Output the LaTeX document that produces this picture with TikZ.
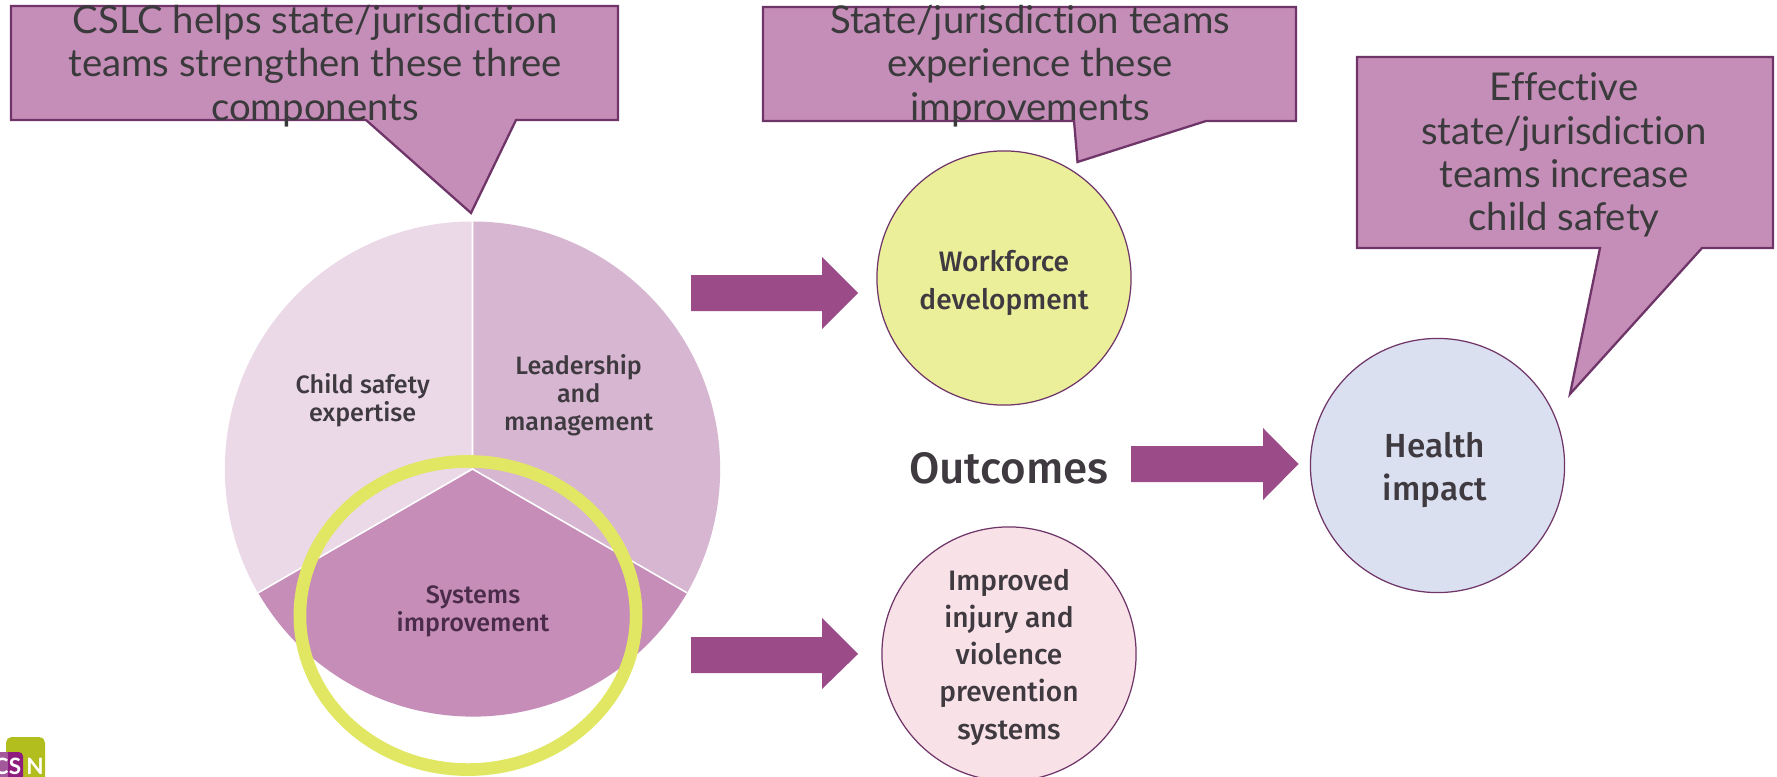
\documentclass[tikz,border=0pt]{standalone}
\usepackage{fontspec}
\setmainfont{Lato}[Ligatures=NoCommon]
\newfontfamily\labelfont{Fira Sans Medium}
\definecolor{callfill}{HTML}{C58EB8}
\definecolor{callline}{HTML}{6F3568}
\definecolor{txt}{HTML}{3A3A3C}
\definecolor{lbl}{HTML}{3F3A40}
\definecolor{lbldark}{HTML}{4A2C4A}
\definecolor{arrowc}{HTML}{9B4B88}
\definecolor{pieA}{HTML}{EBD9E8}
\definecolor{pieB}{HTML}{D7B6D1}
\definecolor{pieC}{HTML}{C58DB8}
\definecolor{ringc}{HTML}{E1E763}
\definecolor{discY}{HTML}{EBEF9A}
\definecolor{discP}{HTML}{F9E1E8}
\definecolor{discB}{HTML}{DAE0F0}
\definecolor{logoG}{HTML}{B2BD1E}
\definecolor{logoL}{HTML}{A3589C}
\definecolor{logoD}{HTML}{8E1C7F}
\tikzset{
  calltext/.style={text=txt,font=\fontsize{10.9}{12.3}\selectfont,align=center,inner sep=0pt},
  callshape/.style={fill=callfill,draw=callline,line width=0.65pt,line join=miter},
  disc/.style={draw=callline,line width=0.35pt},
  disctext/.style={text=lbl,align=center,inner sep=0pt,font=\labelfont\fontsize{8}{10.6}\selectfont},
  pielabel/.style={text=lbl,align=center,inner sep=0pt,font=\labelfont\fontsize{7.15}{8}\selectfont},
  blockarrow/.style={fill=arrowc,draw=none},
  logotext/.style={text=white,font=\fontsize{6.4}{6.4}\selectfont\bfseries,inner sep=0pt},
}
\begin{document}
\begin{tikzpicture}[x=0.01cm,y=-0.01cm]
\useasboundingbox (0,0) rectangle (1777,776);
\fill[white] (0,0) rectangle (1777,776);
\clip (0,0) rectangle (1777,776);
% logo
\fill[logoG,rounded corners=1.6pt] (6,737) rectangle (45,800);
\fill[logoD,rounded corners=1.2pt] (-10,752) rectangle (23,800);
\fill[logoL] (-10,752) rectangle (8,800);
\node[logotext] (logoC) at (1,766) {C};
\node[logotext] (logoS) at (15,766) {S};
\node[logotext] (logoN) at (35,766) {N};
% pie
\coordinate (pc) at (472.5,469);
\fill[pieA] (pc) -- ++(0,-247.5) arc[start angle=90,end angle=210,radius=2.475cm] -- cycle;
\fill[pieB] (pc) -- ++(0,-247.5) arc[start angle=90,end angle=-30,radius=2.475cm] -- cycle;
\fill[pieC] (pc) -- ++(-214.3,123.75) arc[start angle=210,end angle=330,radius=2.475cm] -- cycle;
\draw[white,line width=0.45pt] (pc) -- ++(0,-247.5) (pc) -- ++(-214.3,123.75) (pc) -- ++(214.3,123.75);
\node[pielabel] (child) at (362.7,400) {Child safety\\expertise};
\node[pielabel] (lead) at (578.7,395) {Leadership\\and\\management};
\node[pielabel,text=lbldark] (sys) at (473,611.5) {Systems\\improvement};
\draw[ringc,line width=3.6pt] (468,615.5) ellipse [x radius=1.68cm,y radius=1.54cm];
% discs
\coordinate (wc) at (1004,278);
\coordinate (ic) at (1009,654);
\coordinate (hc) at (1437.5,465.5);
\fill[discY] (wc) circle [radius=1.27cm];
\draw[disc] (wc) circle [radius=1.27cm];
\fill[discP] (ic) circle [radius=1.27cm];
\draw[disc] (ic) circle [radius=1.27cm];
\fill[discB] (hc) circle [radius=1.27cm];
\draw[disc] (hc) circle [radius=1.27cm];
\node[disctext] (work) at (1004,283) {Workforce\\development};
\node[disctext] (impr) at (1009,657) {Improved\\injury and\\violence\\prevention\\systems};
\node[disctext,font=\labelfont\fontsize{9.5}{12}\selectfont] (health) at (1435,470) {Health\\impact};
\node[text=lbl,inner sep=0pt,font=\labelfont\fontsize{12.5}{14}\selectfont] (outc) at (1009,468) {Outcomes};
% block arrows
\fill[blockarrow] (691,275) -- (822,275) -- (822,257) -- (858,293) -- (822,329) -- (822,311) -- (691,311) -- cycle;
\fill[blockarrow] (691,637) -- (822,637) -- (822,618) -- (858,654) -- (822,689) -- (822,673) -- (691,673) -- cycle;
\fill[blockarrow] (1131,446) -- (1263,446) -- (1263,428) -- (1298.5,464) -- (1263,500) -- (1263,482) -- (1131,482) -- cycle;
% callouts
\draw[callshape] (11,6) -- (618,6) -- (618,120) -- (516,120) -- (471,213) -- (366,120) -- (11,120) -- cycle;
\draw[callshape] (763,7) -- (1296,7) -- (1296,121) -- (1206,121) -- (1077.5,162) -- (1074,121) -- (763,121) -- cycle;
\draw[callshape] (1357,57) -- (1773,57) -- (1773,248) -- (1702,248) -- (1570,394) -- (1600,248) -- (1357,248) -- cycle;
\node[calltext] (c1) at (315,66) {CSLC helps state/jurisdiction\\teams strengthen these three\\components};
\node[calltext] (c2) at (1030,66) {State/jurisdiction teams\\experience these\\improvements};
\node[calltext] (c3) at (1564,155) {Effective\\state/jurisdiction\\teams increase\\child safety};
\end{tikzpicture}
\end{document}
